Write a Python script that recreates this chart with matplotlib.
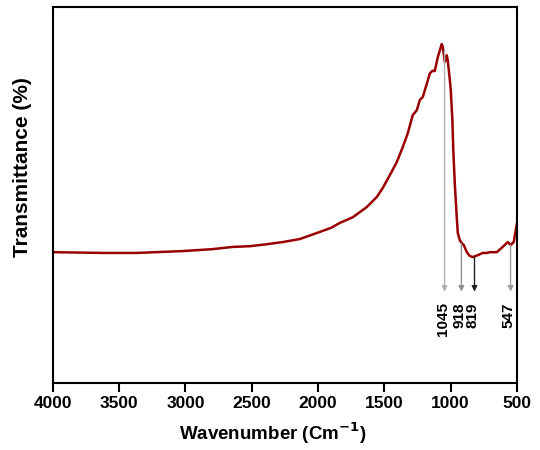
import matplotlib.pyplot as plt
import numpy as np

plt.rcParams['font.family'] = ['Liberation Sans', 'DejaVu Sans']
plt.rcParams['font.weight'] = 'bold'

# FTIR spectrum (wavenumber, transmittance in arbitrary %)
wavenumber = [4000, 3800, 3623, 3366, 3019, 2800, 2642, 2514, 2390, 2265, 2137,
              2009, 1900, 1835, 1737, 1632, 1556, 1511, 1458, 1405, 1360, 1322,
              1285, 1254, 1232, 1209, 1180, 1156, 1135, 1119, 1096, 1066, 1058,
              1043, 1028, 1021, 1005, 998, 986, 979, 968, 953, 945, 930, 915,
              900, 877, 855, 832, 794, 757, 726, 704, 651, 606, 568, 545, 523, 500]
transmittance = [34.8, 34.7, 34.6, 34.6, 35.1, 35.6, 36.2, 36.4, 36.9, 37.5, 38.3,
                 39.9, 41.3, 42.6, 44.1, 46.8, 49.5, 51.9, 55.3, 58.8, 62.8, 66.5,
                 71.3, 72.6, 75.3, 76.1, 79.5, 82.4, 83.1, 83.0, 86.7, 90.2, 89.4,
                 85.4, 87.2, 85.9, 80.6, 77.9, 70.0, 62.0, 53.2, 44.1, 39.9, 38.0, 37.2,
                 36.7, 34.8, 33.8, 33.5, 34.0, 34.6, 34.6, 34.8, 34.8, 36.2, 37.5, 36.7,
                 37.5, 42.3]

# marked bands: position, where the arrow starts
peaks = [1045, 918, 819, 547]
peak_start = [88.5, 37.2, 33.5, 36.7]
arrow_colors = ['#b0b0b0', '#909090', '#202020', '#a0a0a0']

fig = plt.figure(figsize=(5.4, 4.5), dpi=100)
ax = fig.add_axes([0.098, 0.149, 0.859, 0.835])

ax.plot(wavenumber, transmittance, color='#990000', lw=1.8,
        solid_joinstyle='round')

for wn, y0, c in zip(peaks, peak_start, arrow_colors):
    ax.annotate('', xy=(wn, 24.3), xytext=(wn, y0),
                arrowprops=dict(arrowstyle='-|>', color=c, lw=1.0,
                                mutation_scale=8, shrinkA=0, shrinkB=0))
    ax.text(wn + 12, 21.5, str(wn), rotation=90, ha='center', va='top',
            fontsize=11, fontweight='bold')

ax.set_xlim(4000, 500)
ax.set_ylim(0, 100)
ax.set_xticks(np.arange(4000, 499, -500))
ax.set_yticks([])
ax.tick_params(axis='x', direction='out', length=6.5, width=1.5,
               labelsize=12.5, pad=3)
for s in ax.spines.values():
    s.set_linewidth(1.5)

ax.set_xlabel('Wavenumber (Cm$^{\\mathbf{-1}}$)', fontsize=13.5, fontweight='bold')
ax.xaxis.set_label_coords(0.474, -0.1)
ax.set_ylabel('Transmittance (%)', fontsize=15, fontweight='bold')
ax.yaxis.set_label_coords(-0.045, 0.574)

fig.savefig('out.png', dpi=100)
